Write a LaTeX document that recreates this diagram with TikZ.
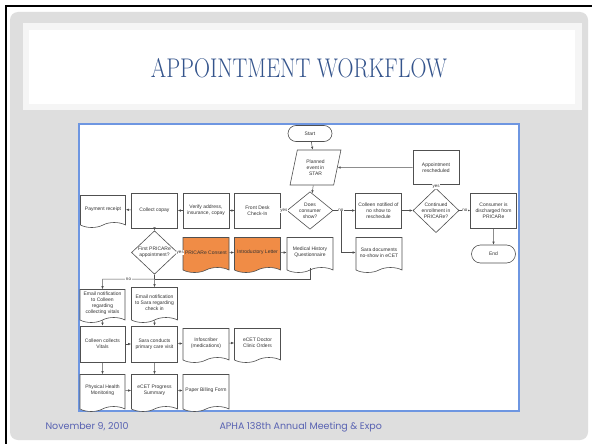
\documentclass[tikz,border=0pt]{standalone}
\usepackage{fontspec}
\setsansfont{Liberation Sans}
\newfontfamily\footfont{Poppins}
\usetikzlibrary{shapes.geometric,shapes.symbols,shapes.misc,arrows.meta}

\definecolor{panelgray}{RGB}{222,222,222}
\definecolor{titleblue}{RGB}{52,84,140}
\definecolor{frameblue}{RGB}{110,150,225}
\definecolor{footblue}{RGB}{88,98,178}
\definecolor{docorange}{RGB}{240,140,70}
\definecolor{lineg}{RGB}{80,80,80}

\tikzset{
  box/.style={draw=lineg, line width=0.6pt, fill=white, minimum width=46pt,
    minimum height=35pt, inner sep=1pt, align=center, text=black!80,
    font=\sffamily\fontsize{5}{6}\selectfont},
  proc/.style={box, rectangle},
  docu/.style={box, tape, tape bend top=none, tape bend bottom=in and out,
    tape bend height=5pt},
  decide/.style={box, diamond, inner sep=0pt},
  term/.style={box, rounded rectangle, minimum height=16pt},
  io/.style={box, trapezium, trapezium left angle=77, trapezium right angle=103,
    trapezium stretches=true, minimum width=51pt},
  flow/.style={draw=lineg, line width=0.5pt, -{Latex[length=3pt,width=2.4pt]}},
  lbl/.style={fill=white, inner sep=0.6pt, text=black!80,
    font=\sffamily\fontsize{4.5}{5}\selectfont},
  foot/.style={anchor=west, text=footblue, font=\footfont\fontsize{9.5}{11}\selectfont},
}

\begin{document}
\begin{tikzpicture}[x=1pt,y=-1pt]

% slide
\useasboundingbox (0,0) rectangle (592,444);
\fill[white] (0,0) rectangle (592,444);
\draw[black, line width=2pt] (6,444) -- (6,6) -- (592,6);
\fill[panelgray, rounded corners=8pt] (10,12) rectangle (588,440);
\fill[black!4] (23,23) rectangle (582,110);
\fill[white] (29,30) rectangle (575,104);
\node[text=titleblue, xscale=0.82, font=\fontsize{27}{30}\selectfont] (title) at (299,68) {APPOINTMENT WORKFLOW};
\draw[frameblue, line width=1.2pt, fill=white] (79,124) rectangle (519,411);

% top of the flow
\node[term] (start) at (310,133.5) {Start};
\node[io] (plan) at (315.5,167.5) {Planned\\event in\\STAR};
\node[decide] (show) at (310,210.5) {Does\\consumer\\show?};
\node[proc] (front) at (257.5,210.5) {Front Desk\\Check-In};
\node[proc] (verify) at (206,210.5) {Verify address,\\insurance, copay};
\node[proc] (collect) at (154.5,210.5) {Collect copay};
\node[docu, minimum width=45pt, minimum height=32pt] (receipt) at (103,209) {Payment receipt};
\node[proc] (notify) at (378.5,210.5) {Colleen notified of\\no show to\\reschedule};
\node[decide] (cont) at (436,210.5) {Continued\\enrollment in\\PRICARe?};
\node[proc, minimum height=34pt] (resched) at (436,167.5) {Appointment\\rescheduled};
\node[proc] (disch) at (493.5,210.5) {Consumer is\\discharged from\\PRICARe};
\node[term, minimum height=18pt] (end) at (493.5,254) {End};
\node[docu] (saradoc) at (379,252.5) {Sara documents\\no-show in eCET};

% second row
\node[decide] (first) at (154.5,252.5) {First PRICARe\\appointment?};
\node[docu, fill=docorange] (consent) at (206,252.5) {PRICARe Consent};
\node[docu, fill=docorange] (letter) at (257.5,252.5) {Introductory Letter};
\node[docu] (medhist) at (310,252.5) {Medical History\\Questionnaire};

% lower rows
\node[docu, minimum width=45pt, minimum height=33pt] (mailcol) at (102.5,303.5) {Email notification\\to Colleen\\regarding\\collecting vitals};
\node[docu] (mailsara) at (154.5,302.5) {Email notification\\to Sara regarding\\check in};
\node[proc, minimum width=45pt, minimum height=36pt] (vitals) at (102.5,344) {Colleen collects\\Vitals};
\node[proc, minimum height=36pt] (visit) at (154.5,344) {Sara conducts\\primary care visit};
\node[docu, minimum height=34pt] (infosc) at (206,343) {Infoscriber\\(medications)};
\node[docu, minimum height=34pt] (orders) at (257.5,343) {eCET Doctor\\Clinic Orders};
\node[docu, minimum width=45pt, minimum height=37pt] (monitor) at (102.5,390.5) {Physical Health\\Monitoring};
\node[docu, minimum height=37pt] (progress) at (154.5,390.5) {eCET Progress\\Summary};
\node[docu, minimum height=37pt] (billing) at (206,390.5) {Paper Billing Form};

\coordinate (split) at (341,210.5);
\coordinate (join) at (154.5,279);
\coordinate (nobend) at (102.5,279);

% connectors
\draw[flow] (start) -- (plan);
\draw[flow] (plan) -- (show);
\draw[flow] (show) -- node[lbl]{yes} (front);
\draw[flow] (front) -- (verify);
\draw[flow] (verify) -- (collect);
\draw[flow] (collect) -- (receipt);
\draw[flow] (collect) -- (first);
\draw[flow] (show) -- node[lbl, pos=0.35]{no} (notify);
\draw[flow] (split) |- (saradoc);
\draw[flow] (notify) -- (cont);
\draw[flow] (cont) -- node[lbl]{yes} (resched);
\draw[flow] (resched) -- (plan);
\draw[flow] (cont) -- node[lbl]{no} (disch);
\draw[flow] (disch) -- (end);
\draw[flow] (first) -- node[lbl]{yes} (consent);
\draw[flow] (consent) -- (letter);
\draw[flow] (letter) -- (medhist);
\draw[lineg, line width=0.5pt] (medhist.south) |- (join);
\draw[lineg, line width=0.5pt] (first) -- (join);
\draw[flow] (join) -- (mailsara);
\draw[flow] (join) -- node[lbl]{no} (nobend) -- (mailcol);
\draw[flow] (mailcol) -- (vitals);
\draw[flow] (mailsara) -- (visit);
\draw[flow] (vitals) -- (visit);
\draw[flow] (visit) -- (infosc);
\draw[flow] (infosc) -- (orders);
\draw[flow] (vitals) -- (monitor);
\draw[flow] (visit) -- (progress);
\draw[flow] (monitor) -- (progress);
\draw[flow] (progress) -- (billing);

% footer
\node[foot] (date) at (42,427) {November 9, 2010};
\node[foot] (meeting) at (216,427) {APHA 138th Annual Meeting \& Expo};

\end{tikzpicture}
\end{document}
